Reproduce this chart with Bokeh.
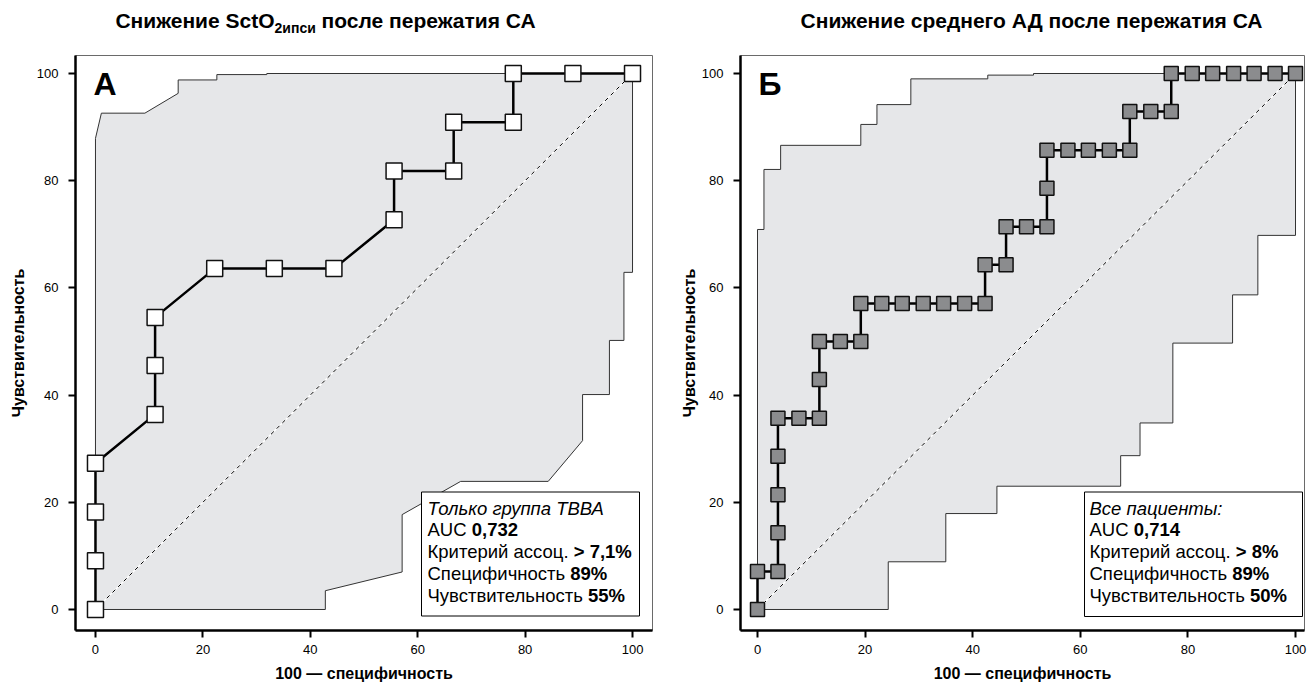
import glob
import os

from bokeh.embed import file_html
from bokeh.layouts import column, row
from bokeh.models import BoxAnnotation, FixedTicker, Label, Range1d
from bokeh.plotting import figure
from bokeh.resources import INLINE

FONT = "Liberation Sans"

# ---------------- data ----------------
ticks = [0, 20, 40, 60, 80, 100]
chance = [0, 100]
x_label = "100 — специфичность"
y_label = "Чувствительность"

# Panel А
A_letter = "А"
A_title_main = "Снижение SctO"
A_title_sub = "2ипси"
A_title_tail = "после пережатия СА"
A_fpr = [0, 0, 0, 0, 11.1, 11.1, 11.1, 22.2, 33.3, 44.4, 55.6, 55.6, 66.7, 66.7, 77.8, 77.8, 88.9, 100]
A_tpr = [0, 9.1, 18.2, 27.3, 36.4, 45.5, 54.5, 63.6, 63.6, 63.6, 72.7, 81.8, 81.8, 90.9, 90.9, 100, 100, 100]
A_upper_x = [0, 0, 1.1, 9.2, 15.4, 15.4, 22.6, 22.6, 31.9, 31.9, 100]
A_upper_y = [0, 87.9, 92.6, 92.6, 96.3, 98.8, 98.8, 99.8, 99.8, 100, 100]
A_lower_x = [100, 100, 98.4, 98.4, 95.7, 95.7, 90.7, 90.7, 84.3, 68.0, 57.1, 57.1, 42.8, 42.8, 0]
A_lower_y = [100, 62.9, 62.9, 50.2, 50.2, 40.1, 40.1, 31.5, 23.9, 23.9, 17.7, 7.0, 3.5, 0, 0]
A_note = "Только группа ТВВА"
A_auc = "0,732"
A_crit = "> 7,1%"
A_spec = "89%"
A_sens = "55%"

# Panel Б
B_letter = "Б"
B_title = "Снижение среднего АД после пережатия СА"
B_fpr = [0, 0, 3.8, 3.8, 3.8, 3.8, 3.8, 7.7, 11.5, 11.5, 11.5, 15.4, 19.2, 19.2, 23.1, 26.9, 30.8,
         34.6, 38.5, 42.3, 42.3, 46.2, 46.2, 50.0, 53.8, 53.8, 53.8, 57.7, 61.5, 65.4, 69.2, 69.2,
         73.1, 76.9, 76.9, 80.8, 84.6, 88.5, 92.3, 96.2, 100]
B_tpr = [0, 7.1, 7.1, 14.3, 21.4, 28.6, 35.7, 35.7, 35.7, 42.9, 50.0, 50.0, 50.0, 57.1, 57.1, 57.1,
         57.1, 57.1, 57.1, 57.1, 64.3, 64.3, 71.4, 71.4, 71.4, 78.6, 85.7, 85.7, 85.7, 85.7, 85.7,
         92.9, 92.9, 92.9, 100, 100, 100, 100, 100, 100, 100]
B_upper_x = [0, 0, 1.2, 1.2, 4.3, 4.3, 19.2, 19.2, 22.2, 22.2, 28.5, 28.5, 42.8, 42.8, 51.3, 51.3, 100]
B_upper_y = [0, 70.9, 70.9, 82.1, 82.1, 86.6, 86.6, 90.5, 90.5, 94.2, 94.2, 99.0, 99.0, 99.7, 99.7, 100, 100]
B_lower_x = [100, 100, 93.0, 93.0, 88.3, 88.3, 77.2, 77.2, 71.1, 71.1, 67.5, 67.5, 44.5, 44.5, 35.0, 35.0, 24.3, 24.3, 0]
B_lower_y = [100, 69.8, 69.8, 58.7, 58.7, 49.7, 49.7, 34.8, 34.8, 28.7, 28.7, 23.0, 23.0, 17.9, 17.9, 8.9, 8.9, 0, 0]
B_note = "Все пациенты:"
B_auc = "0,714"
B_crit = "> 8%"
B_spec = "89%"
B_sens = "50%"


# ---------------- text metrics ----------------
_FILES = {"normal": "LiberationSans-Regular.ttf", "bold": "LiberationSans-Bold.ttf",
          "italic": "LiberationSans-Italic.ttf"}
_paths = {}
_fonts = {}


def _find(name):
    if name in _paths:
        return _paths[name]
    found = None
    for root in ("/usr/share/fonts", "/usr/local/share/fonts",
                 os.path.expanduser("~/.local/share/fonts"), os.path.expanduser("~/.fonts")):
        hits = glob.glob(os.path.join(root, "**", name), recursive=True)
        if hits:
            found = hits[0]
            break
    _paths[name] = found
    return found


def text_width(s, size, style="normal"):
    try:
        from PIL import ImageFont
        path = _find(_FILES[style])
        if path:
            if path not in _fonts:
                _fonts[path] = ImageFont.truetype(path, 100)
            return _fonts[path].getlength(s) * size / 100.0
    except Exception:
        pass
    return 0.56 * size * len(s) * (1.08 if style == "bold" else 1.0)


# font sizes matched to the reference text extents
TITLE_SIZE = round(2 * 462 / text_width(B_title, 1, "bold")) / 2
SUB_SIZE = round(TITLE_SIZE * 0.66)
LEG_SIZE = round(2 * 204 / text_width("Критерий ассоц. > 7,1%", 1, "normal")) / 2
BASE_FIX = 0.43   # baseline correction (fraction of font size) for alphabetic anchoring

# ---------------- layout constants ----------------
YR = (-3.92, 103.36)
FH = 575
TOP_H = 54
BOTTOM = 58


def title_fig(width, parts, center, baseline):
    t = figure(frame_width=width, frame_height=TOP_H, x_range=Range1d(0, width),
               y_range=Range1d(0, TOP_H), output_backend="svg", toolbar_location=None,
               x_axis_location=None, y_axis_location=None,
               min_border_left=0, min_border_right=0, min_border_top=0, min_border_bottom=0,
               background_fill_color="white", border_fill_color="white")
    t.grid.visible = False
    t.outline_line_color = None
    total = sum(text_width(tx, s, st) + gap for tx, s, st, dy, gap in parts)
    x = center - total / 2
    for tx, s, st, dy, gap in parts:
        x += gap
        t.add_layout(Label(x=x, y=baseline + dy + BASE_FIX * s, text=tx, text_font=FONT,
                           text_font_size=f"{s}px", text_font_style=st,
                           text_baseline="alphabetic", text_align="left", text_color="black"))
        x += text_width(tx, s, st)
    return t


def build(fpr, tpr, up_x, up_y, lo_x, lo_y, xr, fw, bl, br, ylab_standoff,
          mfill, msize, letter, legend, box, text_left):
    p = figure(frame_width=fw, frame_height=FH, x_range=Range1d(*xr), y_range=Range1d(*YR),
               output_backend="svg", toolbar_location=None,
               min_border_left=bl, min_border_right=br, min_border_top=1, min_border_bottom=BOTTOM,
               background_fill_color="white", border_fill_color="white")

    def sx(px):
        return xr[0] + px * (xr[1] - xr[0]) / fw

    def sy(py):
        return YR[0] + py * (YR[1] - YR[0]) / FH

    p.grid.visible = False
    p.outline_line_color = "#6a6a6a"
    p.outline_line_width = 1
    for ax in (p.xaxis[0], p.yaxis[0]):
        ax.ticker = FixedTicker(ticks=ticks)
        ax.axis_line_width = 2.5
        ax.axis_line_color = "black"
        ax.major_tick_line_width = 2
        ax.major_tick_line_color = "black"
        ax.major_tick_out = 7
        ax.major_tick_in = 0
        ax.minor_tick_line_color = None
        ax.major_label_text_font = FONT
        ax.major_label_text_font_size = "13px"
        ax.major_label_text_color = "black"
        ax.axis_label_text_font = FONT
        ax.axis_label_text_font_size = "16px"
        ax.axis_label_text_font_style = "bold"
        ax.axis_label_text_color = "black"
    p.xaxis.axis_label = x_label
    p.yaxis.axis_label = y_label
    p.xaxis.major_label_standoff = 7
    p.xaxis.axis_label_standoff = 8
    p.yaxis.major_label_standoff = 10
    p.yaxis.axis_label_standoff = ylab_standoff

    p.patch(up_x + lo_x, up_y + lo_y, fill_color="#e6e7e9", line_color="#333333", line_width=1)
    p.line(chance, chance, line_color="white", line_width=1.3)
    p.line(chance, chance, line_color="black", line_width=1, line_dash="4 4")
    p.line(fpr, tpr, line_color="black", line_width=2.5)
    p.scatter(fpr, tpr, marker="square", size=msize, fill_color=mfill,
              line_color="#111111", line_width=1.5)

    # panel letter
    p.add_layout(Label(x=sx(18), y=sy(533 + BASE_FIX * 32), text=letter, text_font=FONT,
                       text_font_size="32px", text_font_style="bold", text_baseline="alphabetic",
                       text_align="left", text_color="black"))

    # statistics box
    p.add_layout(BoxAnnotation(left=sx(box[0]), right=sx(box[1]), bottom=sy(box[2]), top=sy(box[3]),
                               fill_color="white", fill_alpha=1, line_color="black",
                               line_width=1, line_alpha=1))
    baselines = [114.3, 92.6, 70.9, 49.2, 27.5]
    for segs, base in zip(legend, baselines):
        x = text_left
        for t, st in segs:
            p.add_layout(Label(x=sx(x), y=sy(base + BASE_FIX * LEG_SIZE), text=t, text_font=FONT,
                               text_font_size=f"{LEG_SIZE}px",
                               text_font_style=st, text_baseline="alphabetic", text_align="left",
                               text_color="black"))
            x += text_width(t, LEG_SIZE, st)
    return p


def legend_lines(note, auc, crit, spec, sens):
    return [
        [(note, "italic")],
        [("AUC ", "normal"), (auc, "bold")],
        [("Критерий ассоц. ", "normal"), (crit, "bold")],
        [("Специфичность ", "normal"), (spec, "bold")],
        [("Чувствительность ", "normal"), (sens, "bold")],
    ]


L1, R1, FW1 = 75, 10, 577
L2, R2, FW2 = 78, 5, 564

p1 = build(A_fpr, A_tpr, A_upper_x, A_upper_y, A_lower_x, A_lower_y,
           xr=(-3.72, 103.72), fw=FW1, bl=L1, br=R1, ylab_standoff=7,
           mfill="white", msize=16, letter=A_letter,
           legend=legend_lines(A_note, A_auc, A_crit, A_spec, A_sens),
           box=(346, 564, 14.5, 138.5), text_left=352)

p2 = build(B_fpr, B_tpr, B_upper_x, B_upper_y, B_lower_x, B_lower_y,
           xr=(-3.16, 101.67), fw=FW2, bl=L2, br=R2, ylab_standoff=1,
           mfill="#8b8c8e", msize=14, letter=B_letter,
           legend=legend_lines(B_note, B_auc, B_crit, B_spec, B_sens),
           box=(344, 562, 14, 138.5), text_left=349)

W1 = L1 + FW1 + R1
W2 = L2 + FW2 + R2
TITLE_BASE = TOP_H - 29
SPACE = text_width(" ", TITLE_SIZE, "bold")

t1 = title_fig(W1, [(A_title_main, TITLE_SIZE, "bold", 0, 0), (A_title_sub, SUB_SIZE, "bold", -5, 0),
                    (A_title_tail, TITLE_SIZE, "bold", 0, SPACE)], center=325, baseline=TITLE_BASE)
t2 = title_fig(W2, [(B_title, TITLE_SIZE, "bold", 0, 0)], center=1031 - W1, baseline=TITLE_BASE)

layout = column(row(t1, t2), row(p1, p2))
open("out.html", "w").write(file_html(layout, INLINE, title="ROC"))
